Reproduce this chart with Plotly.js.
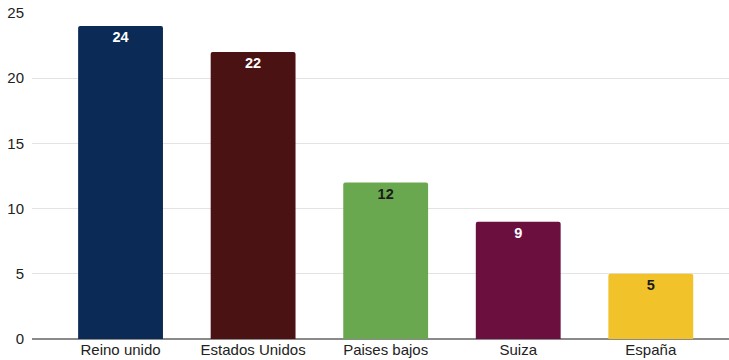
<!DOCTYPE html>
<html><head><meta charset="utf-8">
<script src="https://cdn.plot.ly/plotly-3.0.1.min.js"></script>
<style>html,body{margin:0;padding:0;background:#fff}#chart{width:729px;height:360px}</style>
</head><body><div id="chart"></div>
<script>
const categories = ["Reino unido", "Estados Unidos", "Paises bajos", "Suiza", "España"];
const values = [24, 22, 12, 9, 5];
const barColors = ["#0b2a55", "#4a1212", "#6aa84f", "#6b0f3f", "#f1c22a"];
const labelColors = ["#ffffff", "#ffffff", "#1a1a1a", "#ffffff", "#1a1a1a"];
const yTicks = [0, 5, 10, 15, 20, 25];

const trace = {
  type: "bar",
  x: categories,
  y: values,
  marker: {color: barColors, cornerradius: 2},
  text: values.map(String),
  textposition: "inside",
  insidetextanchor: "end",
  textangle: 0,
  textfont: {family: "Liberation Sans, Arial, sans-serif", size: 14.5, color: labelColors, weight: "bold"},
  hoverinfo: "none"
};

const layout = {
  width: 729, height: 360,
  margin: {l: 32, r: 0, t: 13, b: 21},
  paper_bgcolor: "#ffffff", plot_bgcolor: "#ffffff",
  bargap: 0.36,
  showlegend: false,
  font: {family: "Liberation Sans, Arial, sans-serif", size: 15, color: "#222"},
  xaxis: {
    type: "category",
    range: [-0.668, 4.59],
    showgrid: false,
    showline: false,
    zeroline: false,
    ticks: "",
    ticklabelstandoff: 0,
    tickfont: {size: 15, color: "#222"},
    fixedrange: true
  },
  yaxis: {
    range: [0, 25],
    tickvals: yTicks,
    ticktext: yTicks.map(String),
    showgrid: true,
    gridcolor: "#e3e3e3",
    gridwidth: 1,
    zeroline: true,
    zerolinecolor: "#8a8a8a",
    zerolinewidth: 1.5,
    showline: false,
    ticks: "",
    ticklabelstandoff: 7,
    tickfont: {size: 15, color: "#222"},
    fixedrange: true
  }
};

Plotly.newPlot("chart", [trace], layout, {displayModeBar: false, staticPlot: true});
</script></body></html>
